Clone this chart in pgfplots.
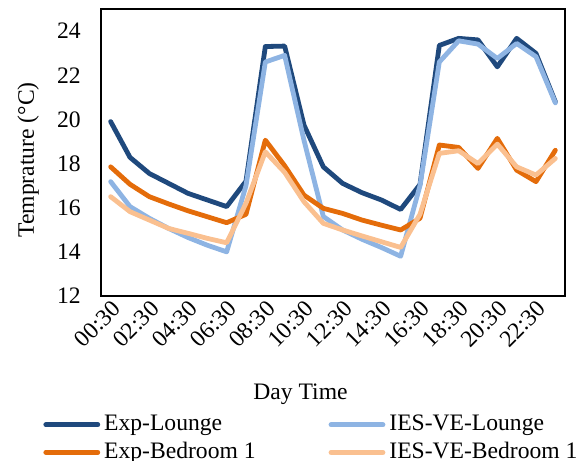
\documentclass[border=0pt]{standalone}
\usepackage{fontspec}
\setmainfont{Liberation Serif}
\usepackage{pgfplots}
\pgfplotsset{compat=1.18}

\definecolor{explounge}{HTML}{1F497D}
\definecolor{ieslounge}{HTML}{8EB4E3}
\definecolor{expbed}{HTML}{E46C0A}
\definecolor{iesbed}{HTML}{FAC090}

\newcommand{\chartfont}{\fontsize{11.8}{14}\selectfont}

\begin{document}
\chartfont
\begin{tikzpicture}
\begin{axis}[
    name=main,
    scale only axis,
    width=232pt, height=143.5pt,
    xmin=-0.5, xmax=23.5,
    ymin=12, ymax=25,
    xtick={0,2,...,22},
    xticklabels={00:30,02:30,04:30,06:30,08:30,10:30,12:30,14:30,16:30,18:30,20:30,22:30},
    ytick={12,14,...,24},
    major tick length=0pt,
    axis line style={line width=1pt},
    tick label style={font=\chartfont},
    /pgf/number format/assume math mode=true,
    yticklabel style={xshift=-6pt},
    xticklabel style={rotate=45, anchor=north east, inner sep=1pt},
    xlabel={Day Time},
    xlabel style={at={(axis description cs:0.43,-0.36)}, anchor=base, font=\chartfont},
    ylabel={Temprature (°C)},
    ylabel style={at={(axis description cs:-0.1444,0.474)}, anchor=base, font=\chartfont},
    legend style={draw=none, fill=none, at={(axis description cs:-0.125,-0.4)},
        anchor=north west, font=\chartfont, inner sep=0pt, row sep=0pt,
        /tikz/every even column/.append style={column sep=34.5pt}},
    legend columns=2,
    legend cell align=left,
    legend image code/.code={\draw[#1] (0pt,0pt) -- (26pt,0pt);},
    every axis plot/.append style={line width=2.4pt, line join=round, line cap=round},
]
% Exp-Lounge
\addplot[explounge] coordinates {
    (0,19.9) (1,18.28) (2,17.55) (3,17.1) (4,16.65) (5,16.35)
    (6,16.05) (7,17.2) (8,23.3) (9,23.32) (10,19.74) (11,17.85)
    (12,17.1) (13,16.68) (14,16.35) (15,15.92) (16,17.05) (17,23.35)
    (18,23.67) (19,23.6) (20,22.38) (21,23.67) (22,22.99) (23,20.8)
};
\addlegendentry{Exp-Lounge}
% IES-VE-Lounge
\addplot[ieslounge] coordinates {
    (0,17.18) (1,16.05) (2,15.52) (3,15.06) (4,14.65) (5,14.3)
    (6,14.0) (7,17.0) (8,22.6) (9,22.9) (10,19.05) (11,15.6)
    (12,14.99) (13,14.57) (14,14.2) (15,13.8) (16,17.0) (17,22.6)
    (18,23.56) (19,23.41) (20,22.76) (21,23.44) (22,22.84) (23,20.75)
};
\addlegendentry{IES-VE-Lounge}
% Exp-Bedroom 1
\addplot[expbed] coordinates {
    (0,17.85) (1,17.06) (2,16.5) (3,16.17) (4,15.86) (5,15.59)
    (6,15.32) (7,15.7) (8,19.06) (9,17.9) (10,16.57) (11,15.97)
    (12,15.74) (13,15.44) (14,15.21) (15,14.99) (16,15.52) (17,18.84)
    (18,18.73) (19,17.78) (20,19.14) (21,17.7) (22,17.18) (23,18.6)
};
\addlegendentry{Exp-Bedroom 1}
% IES-VE-Bedroom 1
\addplot[iesbed] coordinates {
    (0,16.5) (1,15.82) (2,15.44) (3,15.06) (4,14.84) (5,14.61)
    (6,14.41) (7,16.2) (8,18.53) (9,17.6) (10,16.27) (11,15.29)
    (12,14.99) (13,14.72) (14,14.46) (15,14.2) (16,15.7) (17,18.46)
    (18,18.58) (19,18.0) (20,18.88) (21,17.85) (22,17.48) (23,18.23)
};
\addlegendentry{IES-VE-Bedroom 1}
\end{axis}
\pgfresetboundingbox
\path[use as bounding box] ([shift={(-50.5pt,-82.5pt)}]main.south west)
    rectangle ([shift={(10pt,4.5pt)}]main.north east);
\end{tikzpicture}
\end{document}
